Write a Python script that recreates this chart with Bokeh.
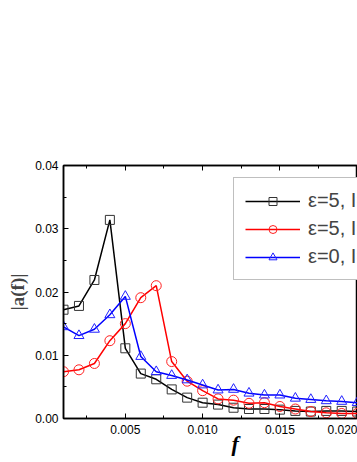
from bokeh.plotting import figure
from bokeh.models import (Range1d, SingleIntervalTicker, NumeralTickFormatter,
                          LinearAxis, Legend, LegendItem, Title, CustomJSTickFormatter)
from bokeh.embed import file_html
from bokeh.resources import INLINE

# ---- data ----
f_vals = [0.001, 0.002, 0.003, 0.004, 0.005, 0.006, 0.007, 0.008, 0.009, 0.010,
          0.011, 0.012, 0.013, 0.014, 0.015, 0.016, 0.017, 0.018, 0.019, 0.020]
black_vals = [0.0172, 0.0178, 0.0219, 0.0314, 0.0111, 0.0071, 0.0062, 0.0046, 0.0033, 0.0025,
              0.0022, 0.0017, 0.0015, 0.0015, 0.0014, 0.0012, 0.0011, 0.0012, 0.0012, 0.0011]
red_vals = [0.0074, 0.0077, 0.0087, 0.0123, 0.0150, 0.0191, 0.0210, 0.0090, 0.0059, 0.0044,
            0.0031, 0.0029, 0.0024, 0.0025, 0.0019, 0.0015, 0.0011, 0.0009, 0.0008, 0.0008]
blue_vals = [0.0145, 0.0131, 0.0141, 0.0164, 0.0193, 0.0098, 0.0074, 0.0068, 0.0061, 0.0053,
             0.0045, 0.0046, 0.0040, 0.0037, 0.0037, 0.0032, 0.0030, 0.0028, 0.0027, 0.0025]
labels = ["ε=5, I=1", "ε=5, I=2", "ε=0, I=1"]
x_label = "f"
y_label = "|a(f)|"
x_ticks_interval = 0.005
y_ticks_interval = 0.01

p = figure(width=357, height=462, output_backend="svg", toolbar_location=None,
           x_range=Range1d(0.001, 0.02002), y_range=Range1d(0, 0.04),
           min_border_left=63, min_border_right=0, min_border_top=165, min_border_bottom=44)
p.grid.visible = False
p.background_fill_color = "white"
p.border_fill_color = "white"
p.outline_line_color = "black"
p.outline_line_width = 1.5

p.xaxis.ticker = SingleIntervalTicker(interval=x_ticks_interval, num_minor_ticks=2)
p.yaxis.ticker = SingleIntervalTicker(interval=y_ticks_interval, num_minor_ticks=2)
p.xaxis.formatter = NumeralTickFormatter(format="0.000")
p.yaxis.formatter = NumeralTickFormatter(format="0.00")
for ax in [p.xaxis[0], p.yaxis[0]]:
    ax.axis_line_width = 1.5
    ax.axis_line_color = "black"
    ax.major_tick_in = 5
    ax.major_tick_out = 0
    ax.minor_tick_in = 3
    ax.minor_tick_out = 0
    ax.major_tick_line_color = "black"
    ax.minor_tick_line_color = "black"
    ax.major_label_text_font = "Liberation Sans"
    ax.major_label_text_font_size = "12px"
    ax.major_label_text_color = "black"
p.xaxis.major_label_standoff = 6
p.yaxis.major_label_standoff = 5

top = LinearAxis(ticker=SingleIntervalTicker(interval=x_ticks_interval, num_minor_ticks=2),
                 formatter=CustomJSTickFormatter(code="return ''"),
                 major_tick_in=5, major_tick_out=0,
                 minor_tick_in=3, minor_tick_out=0, axis_line_width=1.5)
p.add_layout(top, "above")

p.yaxis.axis_label = y_label
p.yaxis.axis_label_text_font = "Liberation Serif"
p.yaxis.axis_label_text_font_style = "bold"
p.yaxis.axis_label_text_font_size = "19px"
p.yaxis.axis_label_standoff = 4

r_black_l = p.line(f_vals, black_vals, line_color="black", line_width=1.5)
r_black_m = p.scatter(f_vals, black_vals, marker="square", size=9, fill_color=None,
                      line_color="#333333", line_width=1)
r_red_l = p.line(f_vals, red_vals, line_color="#ff0000", line_width=1.5)
r_red_m = p.scatter(f_vals, red_vals, marker="circle", size=10, fill_color=None,
                    line_color="#ff2020", line_width=1)
r_blue_l = p.line(f_vals, blue_vals, line_color="#0000ff", line_width=1.5)
r_blue_m = p.scatter(f_vals, blue_vals, marker="triangle", size=10, fill_color=None,
                     line_color="#2020ff", line_width=1)

legend = Legend(items=[LegendItem(label=labels[0], renderers=[r_black_l, r_black_m]),
                       LegendItem(label=labels[1], renderers=[r_red_l, r_red_m]),
                       LegendItem(label=labels[2], renderers=[r_blue_l, r_blue_m])],
                location=(170, 138))
legend.border_line_color = "#808080"
legend.border_line_width = 1
legend.background_fill_color = "white"
legend.background_fill_alpha = 1
legend.label_text_font = "Liberation Sans"
legend.label_text_font_size = "20px"
legend.glyph_width = 55
legend.glyph_height = 20
legend.label_height = 20
legend.spacing = 5
legend.padding = 11
legend.label_standoff = 8
legend.margin = 0
p.add_layout(legend)

xtitle = Title(text=x_label, align="left", offset=168, standoff=-16,
               text_font="Liberation Serif", text_font_style="bold italic",
               text_font_size="22px", text_color="black")
p.add_layout(xtitle, "below")

open("out.html", "w").write(file_html(p, INLINE))
